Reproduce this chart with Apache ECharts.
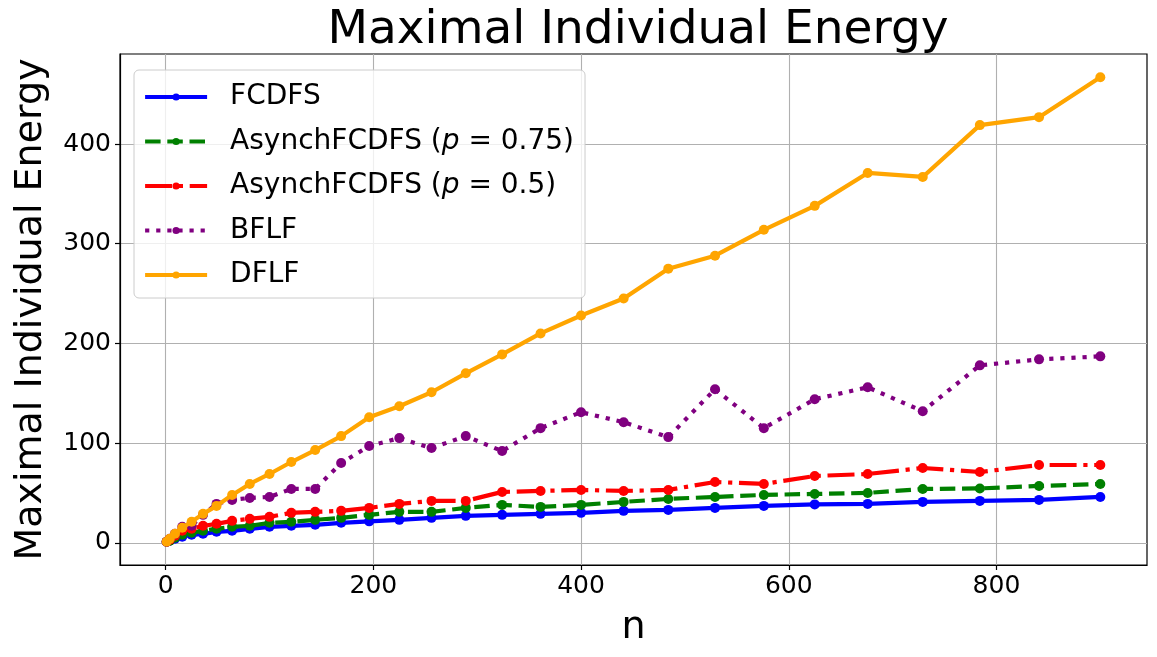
<!DOCTYPE html>
<html>
<head>
<meta charset="utf-8">
<script src="https://cdn.jsdelivr.net/npm/echarts@6/dist/echarts.min.js"></script>
<style>
html,body{margin:0;padding:0;background:#fff;}
#c{width:1157px;height:657px;}
</style>
</head>
<body>
<div id="c"></div>
<script>
const nValues = [1,4,9,16,25,36,49,64,81,100,121,144,169,196,225,256,289,324,361,400,441,484,529,576,625,676,729,784,841,900];
const fcdfs = [1,2,4,6,8,9,11,12,14,16,17,18,20,21.5,23,25,27,28,29,30,32,33,35,37,38.5,39,41,42,43,46];
const asynch075 = [1,2,5,8,10,12,14,16,17,20,21,23,25,28,31,31,35,38,36,38,41,44,46,48,49,50,54,54.5,57,59];
const asynch05 = [1,3,7,12,14,17,19,22,24,26,30,31,32,35,39,42,42,51,52,53,52,53,61,59,67,69,75,71,78,78];
const bflf = [1,4,9,16,17,28,39,43,45,46,54,54,80,97,105,95,107,92,115,131,121,106,154,115,144,156,132,178,184,187];
const dflf = [1,4,9,15,21,29,37,48,59,69,81,93,107,126,137,151,170,189,210,228,245,275,288,314,338,371,367,419,427,467];
const xTicks = [0,200,400,600,800];
const yTicks = [0,100,200,300,400];
const seriesNames = ['FCDFS','AsynchFCDFS (p = 0.75)','AsynchFCDFS (p = 0.5)','BFLF','DFLF'];
const seriesColors = ['#0000ff','#008000','#ff0000','#800080','#ffa500'];
const seriesData = [fcdfs, asynch075, asynch05, bflf, dflf];
const dashTypes = ['solid',[15.5,6.7],[27,6.7,4.2,6.7],[4.2,6.9],'solid'];

const FONT = 'DejaVu Sans';
const chart = echarts.init(document.getElementById('c'), null, {renderer:'canvas'});

const series = seriesNames.map((name,i)=>({
  name: name,
  type: 'line',
  data: nValues.map((n,j)=>[n, seriesData[i][j]]),
  symbol: 'circle',
  symbolSize: 10,
  showSymbol: true,
  color: seriesColors[i],
  itemStyle: {color: seriesColors[i]},
  lineStyle: {color: seriesColors[i], width: 4.2, type: dashTypes[i], cap: 'butt'},
  animation: false,
  z: 2 + i
}));

chart.setOption({
  animation: false,
  backgroundColor: '#ffffff',
  title: {
    text: 'Maximal Individual Energy',
    left: 633, top: 2, textAlign: 'center',
    textStyle: {fontFamily: FONT, fontSize: 47, fontWeight: 'normal', color: '#000'}
  },
  legend: {
    orient: 'vertical',
    left: 134, top: 70,
    padding: [11, 11, 7, 9],
    itemGap: 12.5,
    itemWidth: 62,
    itemHeight: 9,
    backgroundColor: 'rgba(255,255,255,0.8)',
    borderColor: '#cccccc',
    borderWidth: 1,
    borderRadius: 5,
    data: seriesNames,
    lineStyle: {width: 4.2},
    formatter: function(name){ return name.replace('p = ', '{i|p} = '); },
    textStyle: {
      fontFamily: FONT, fontSize: 28, color: '#000', lineHeight: 32,
      padding: [0,0,0,18],
      rich: { i: {fontFamily: FONT, fontSize: 28, fontStyle: 'italic', color: '#000', lineHeight: 32} }
    }
  },
  grid: {
    left: 120, right: 10, top: 54, bottom: 92,
    show: true, borderColor: '#000', borderWidth: 1.2, backgroundColor: 'transparent'
  },
  xAxis: {
    type: 'value',
    min: -43.95, max: 944.95,
    name: 'n', nameLocation: 'middle', nameGap: 44,
    nameTextStyle: {fontFamily: FONT, fontSize: 38, color: '#000'},
    axisLine: {show: true, onZero: false, lineStyle: {color: '#000', width: 1.2}},
    axisTick: {show: true, length: 5, customValues: xTicks, lineStyle: {color: '#000', width: 1.2}},
    axisLabel: {customValues: xTicks, fontFamily: FONT, fontSize: 25, color: '#000', margin: 9},
    splitLine: {show: true, lineStyle: {color: '#b0b0b0', width: 1.1}}
  },
  yAxis: {
    type: 'value',
    min: -22.3, max: 490.35,
    name: 'Maximal Individual Energy', nameLocation: 'middle', nameGap: 70, nameRotate: 90,
    nameTextStyle: {fontFamily: FONT, fontSize: 38, color: '#000'},
    axisLine: {show: true, onZero: false, lineStyle: {color: '#000', width: 1.2}},
    axisTick: {show: true, length: 5, customValues: yTicks, lineStyle: {color: '#000', width: 1.2}},
    axisLabel: {customValues: yTicks, fontFamily: FONT, fontSize: 25, color: '#000', margin: 9},
    splitLine: {show: true, lineStyle: {color: '#b0b0b0', width: 1.1}}
  },
  series: series
});
</script>
</body>
</html>
